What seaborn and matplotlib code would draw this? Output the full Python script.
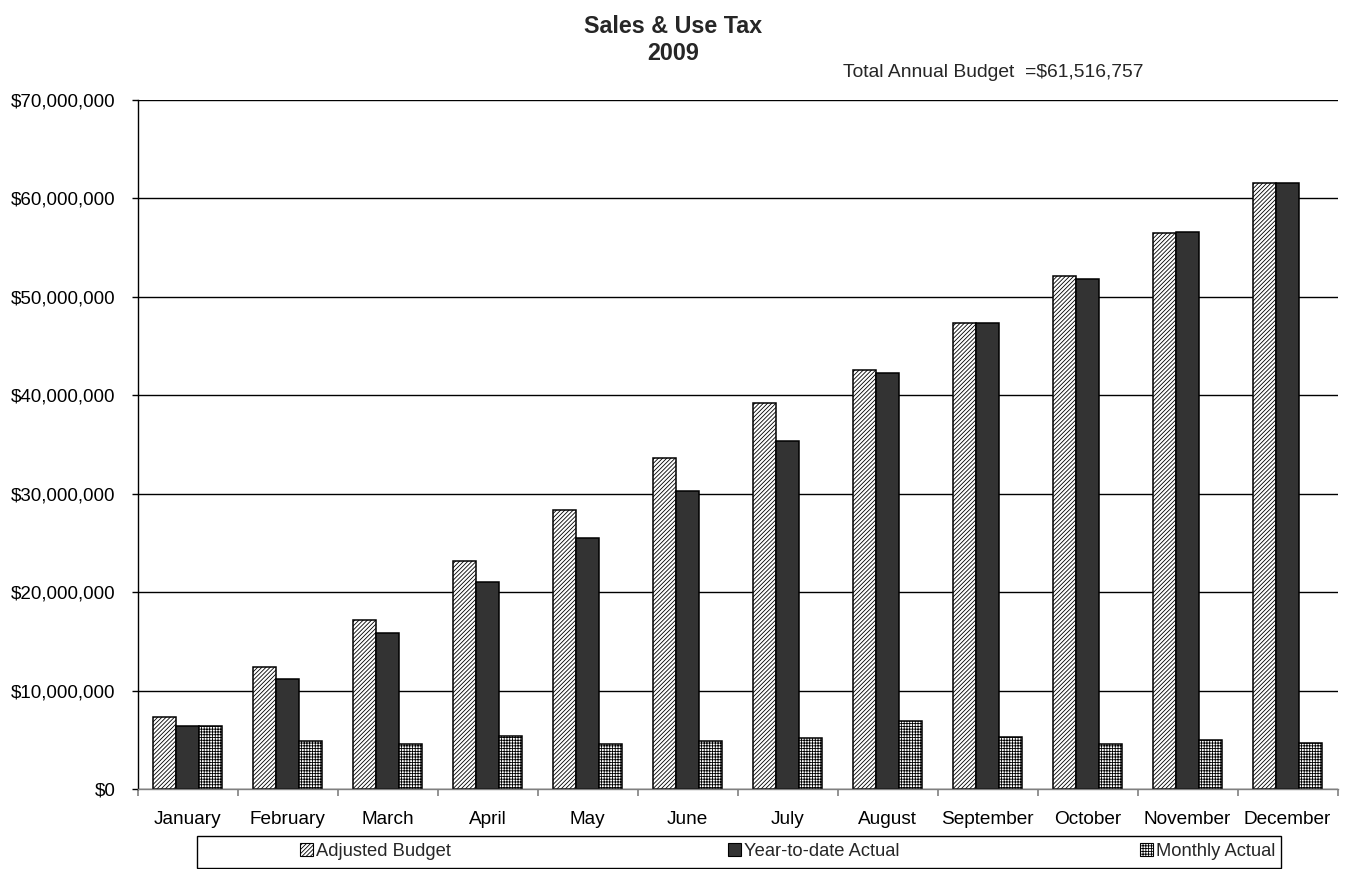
import matplotlib
matplotlib.use("Agg")
import matplotlib.pyplot as plt
import matplotlib.ticker as mticker
from matplotlib.patches import Patch, Rectangle
import numpy as np
import pandas as pd
import seaborn as sns

months = ["January", "February", "March", "April", "May", "June",
          "July", "August", "September", "October", "November", "December"]
series_names = ["Adjusted Budget", "Year-to-date Actual", "Monthly Actual"]

adjusted_budget = [7.27, 12.38, 17.15, 23.16, 28.34, 33.60,
                   39.26, 42.58, 47.35, 52.15, 56.47, 61.52]
ytd_actual = [6.40, 11.16, 15.80, 21.03, 25.50, 30.26,
              35.40, 42.27, 47.35, 51.84, 56.64, 61.52]
monthly_actual = [6.40, 4.90, 4.56, 5.38, 4.57, 4.87,
                  5.20, 6.90, 5.25, 4.57, 4.97, 4.67]

total_budget_text = "Total Annual Budget  =$61,516,757"
title_lines = ["Sales & Use Tax", "2009"]

df = pd.DataFrame({
    "month": months * 3,
    "series": np.repeat(series_names, len(months)),
    "value": np.array(adjusted_budget + ytd_actual + monthly_actual) * 1e6,
})

sns.set_theme(style="white")
plt.rcParams["font.family"] = ["Liberation Sans", "DejaVu Sans"]
plt.rcParams["hatch.linewidth"] = 0.6

W, H = 1347, 869
fig = plt.figure(figsize=(W / 100, H / 100), dpi=100)
ax = fig.add_axes([137.5 / W, 1 - 789 / H, 1200 / W, 689 / H])

sns.barplot(data=df, x="month", y="value", hue="series", order=months,
            hue_order=series_names, width=0.684, dodge=True, ax=ax,
            legend=False, errorbar=None)

styles = [
    dict(facecolor="white", hatch="////////"),
    dict(facecolor="#333333", hatch=None),
    dict(facecolor="white", hatch="++++++"),
]
for cont, st in zip(ax.containers, styles):
    for bar in cont:
        bar.set_facecolor(st["facecolor"])
        bar.set_edgecolor("black")
        bar.set_linewidth(1.1)
        if st["hatch"]:
            bar.set_hatch(st["hatch"])

ax.set_ylim(0, 70e6)
ax.set_xlim(-0.5, 11.5)
ax.yaxis.set_major_locator(mticker.MultipleLocator(10e6))
ax.yaxis.set_major_formatter(mticker.StrMethodFormatter("${x:,.0f}"))
ax.grid(axis="y", color="black", linewidth=1.0)
ax.set_axisbelow(True)

for s in ["top", "right"]:
    ax.spines[s].set_visible(False)
ax.spines["left"].set_color("black")
ax.spines["bottom"].set_color("#808080")
ax.spines["left"].set_linewidth(1.0)
ax.spines["bottom"].set_linewidth(1.0)

ax.set_xlabel("")
ax.set_ylabel("")
ax.tick_params(axis="y", left=True, length=4.5, width=1.0, color="black",
               labelsize=13.5, pad=11.5)
ax.tick_params(axis="x", which="major", bottom=False, labelsize=13.7, pad=10)
ax.set_xticks(np.arange(-0.5, 12.0, 1.0), minor=True)
ax.tick_params(axis="x", which="minor", bottom=True, length=5, width=1.2,
               color="#808080")
for lab in ax.get_xticklabels() + ax.get_yticklabels():
    lab.set_color("black")

fig.text(0.5, 1 - 33 / H, title_lines[0], ha="center", va="baseline",
         fontsize=16.8, fontweight="bold")
fig.text(0.5, 1 - 60 / H, title_lines[1], ha="center", va="baseline",
         fontsize=16.8, fontweight="bold")
fig.text(843 / W, 1 - 77 / H, total_budget_text, ha="left", va="baseline",
         fontsize=13.9)

# legend frame across the bottom, with one entry per series
fig.add_artist(Rectangle((197 / W, 1 - 868 / H), (1281 - 197) / W,
                         (868 - 836) / H, transform=fig.transFigure,
                         facecolor="white", edgecolor="black", linewidth=1.0))
entry_x = [300, 728, 1140]
for name, st, x in zip(series_names, styles, entry_x):
    h = Patch(facecolor=st["facecolor"], edgecolor="black",
              hatch=st["hatch"], linewidth=0.8)
    fig.legend([h], [name], loc="center left",
               bbox_to_anchor=(x / W, 1 - 851 / H), frameon=False,
               fontsize=13.2, handlelength=0.7, handleheight=0.7,
               handletextpad=0.15, borderaxespad=0, borderpad=0)

fig.savefig("out.png", dpi=100)
